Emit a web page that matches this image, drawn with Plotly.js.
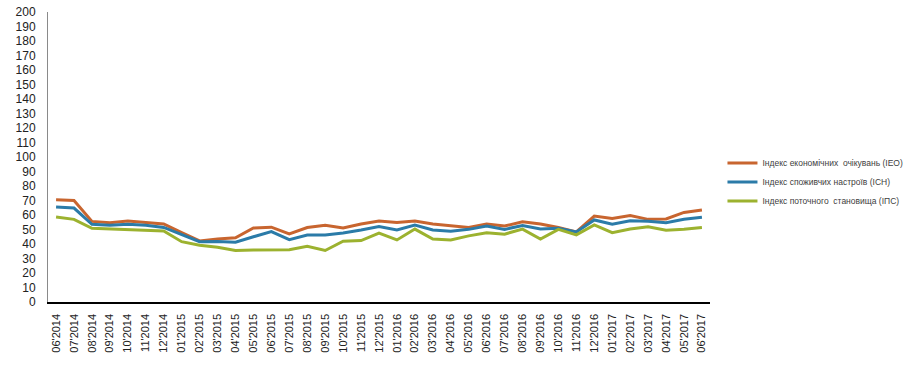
<!DOCTYPE html>
<html>
<head>
<meta charset="utf-8">
<script src="https://cdn.plot.ly/plotly-3.0.1.min.js"></script>
<style>html,body{margin:0;padding:0;background:#fff;}#chart{width:918px;height:384px;}</style>
</head>
<body>
<div id="chart"></div>
<script>
var months = ["06'2014","07'2014","08'2014","09'2014","10'2014","11'2014","12'2014",
  "01'2015","02'2015","03'2015","04'2015","05'2015","06'2015","07'2015","08'2015","09'2015","10'2015","11'2015","12'2015",
  "01'2016","02'2016","03'2016","04'2016","05'2016","06'2016","07'2016","08'2016","09'2016","10'2016","11'2016","12'2016",
  "01'2017","02'2017","03'2017","04'2017","05'2017","06'2017"];

var ieo = [70.5, 70.0, 55.6, 54.6, 55.8, 54.8, 53.8,
  47.8, 42.1, 43.5, 44.3, 51.0, 51.6, 47.0, 51.4, 53.0, 51.0, 53.8, 55.8,
  54.8, 55.8, 53.8, 52.6, 51.4, 53.8, 52.4, 55.4, 53.8, 51.4, 48.3, 59.3,
  57.6, 59.6, 57.0, 57.3, 61.8, 63.4];

var ich = [65.5, 64.8, 53.6, 53.0, 53.6, 52.9, 51.4,
  46.5, 41.6, 41.8, 41.2, 45.0, 48.6, 43.0, 46.2, 46.2, 47.6, 49.6, 52.1,
  49.7, 53.0, 49.7, 48.8, 50.1, 52.4, 50.1, 52.8, 50.3, 50.9, 48.3, 56.6,
  53.6, 56.1, 55.7, 54.7, 57.0, 58.4];

var ips = [58.6, 57.0, 50.8, 50.4, 50.0, 49.4, 49.0,
  41.6, 39.2, 37.7, 35.5, 35.8, 35.9, 36.0, 38.4, 35.5, 41.9, 42.4, 47.5,
  42.8, 50.3, 43.4, 42.8, 45.6, 47.8, 46.8, 50.3, 43.4, 50.1, 46.3, 53.2,
  47.8, 50.3, 51.9, 49.5, 50.1, 51.4];

var names = ["Індекс економічних  очікувань (ІЕО)",
             "Індекс споживчих настроїв (ІСН)",
             "Індекс поточного  становища (ІПС)"];
var colors = ["#C8652F", "#2B7BA8", "#9CB22F"];
var series = [ieo, ich, ips];

var traces = series.map(function (vals, k) {
  return {
    x: months, y: vals, name: names[k], type: 'scatter', mode: 'lines',
    line: {color: colors[k], width: 3}
  };
});

var layout = {
  width: 918, height: 384,
  margin: {l: 48, r: 208, t: 12, b: 82},
  paper_bgcolor: '#fff', plot_bgcolor: '#fff',
  font: {family: 'Liberation Sans, Arial, sans-serif', size: 11, color: '#222'},
  showlegend: true,
  legend: {xref: 'container', yref: 'container', x: 0.787, y: 0.526,
           xanchor: 'left', yanchor: 'middle',
           font: {size: 8.5, color: '#404040'}, tracegroupgap: 0, itemwidth: 30,
           bgcolor: 'rgba(0,0,0,0)'},
  xaxis: {
    type: 'category', range: [-0.45, 36.45], showgrid: false, zeroline: false,
    showline: true, linecolor: '#000', linewidth: 1.5,
    tickangle: -90, tickfont: {size: 11, color: '#222'}, ticks: '',
    ticklabelstandoff: 6, fixedrange: true, automargin: false
  },
  yaxis: {
    range: [0, 200], dtick: 10, tick0: 0, showgrid: false, zeroline: false,
    showline: true, linecolor: '#8a8a8a', linewidth: 1,
    tickfont: {size: 12, color: '#222'}, ticks: '', ticklabelstandoff: 9,
    automargin: false
  }
};

Plotly.newPlot('chart', traces, layout, {displayModeBar: false, staticPlot: true});
</script>
</body>
</html>
